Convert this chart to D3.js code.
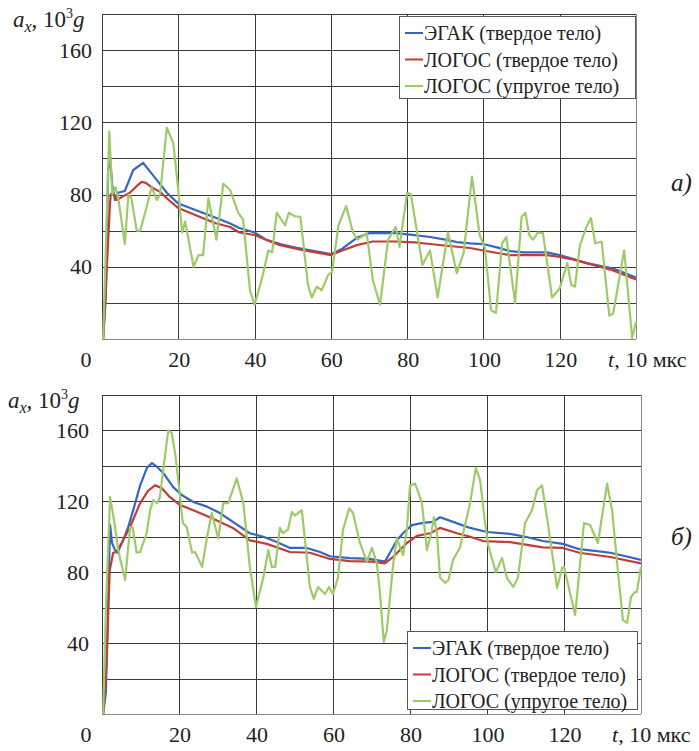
<!DOCTYPE html>
<html>
<head>
<meta charset="utf-8">
<script src="https://cdn.jsdelivr.net/npm/d3@7"></script>
<style>
  body { margin: 0; background: #fff; }
  svg { display: block; }
</style>
</head>
<body>
<svg id="svgID" width="699" height="751" font-family="'Liberation Serif', 'DejaVu Serif', serif"></svg>
<script>
var FONT = "'Liberation Serif', 'DejaVu Serif', serif";

// series names / legend
var seriesNames = ["ЭГАК (твердое тело)", "ЛОГОС (твердое тело)", "ЛОГОС (упругое тело)"];
var seriesColors = ["#3766c2", "#c43c38", "#9dcb68"];

var xTicks = [0, 20, 40, 60, 80, 100, 120, 140];
var xTickLabels = ["0", "20", "40", "60", "80", "100", "120", ""];
var yTicks = [0, 20, 40, 60, 80, 100, 120, 140, 160, 180];
var yTickLabels = [40, 80, 120, 160];

// panel a) : [t, a_x]
var topEgak = [[0.3,0],[1,23],[1.6,93],[2.1,101],[2.7,85],[3.4,77],[4.2,81],[6,82],[8.2,93.6],[10.8,97.5],[12.5,93],[14.4,88],[17,81],[20,75],[25.7,70.5],[30,67],[33.6,64],[36,61.5],[40,59],[43,55],[47,52.5],[51,50.5],[55,49],[60,47],[63,50],[66.8,56],[70,58.6],[74,58.8],[77,58.6],[82,57.5],[86,56.5],[90,55],[93,53.7],[96.5,53],[100,52.6],[104,50.5],[107,48.7],[110.4,48],[116.6,48],[120,46.5],[124,44],[127,42],[130,40.8],[134,39],[137,36.5],[140,34]];
var topLogosT = [[0.3,0],[0.8,20],[2.1,75],[2.3,80],[2.9,81.5],[3.9,77],[5.5,79],[7.3,81],[9,84.5],[10.4,87],[11.5,86.5],[13,84],[15.2,81.5],[17.5,77],[20,72.5],[25.7,67.6],[30,64],[33.6,62],[36,59],[40,57.6],[43,55],[46.7,52],[52,49.5],[56,48],[60,46.5],[63,49],[66.8,52],[71,54],[77,54],[82,53.5],[86,52.6],[91,51.5],[96.5,50.4],[100,49],[104,47.5],[107,46.5],[116.6,46.5],[120,45.5],[124,43.8],[127,42],[130,40.3],[134,38],[137,35.5],[140,33]];
var topLogosU = [[0.3,0],[1.9,115],[2.7,80],[3.6,84],[4.4,76],[6,52.6],[6.9,80],[7.7,78],[9.1,60],[10,60],[11.7,73],[13,84],[14.4,77],[15.2,80],[17,117],[18.7,108.5],[20,82.5],[21,59],[21.8,65],[24,40],[25.3,46.5],[26.5,46.5],[27.9,78],[30,55],[31.8,86],[33.6,82.5],[35.7,70],[37,66],[38.8,27],[40,19],[42,34],[43.6,49],[44.6,48],[45.8,70],[48,63],[49,70],[50.5,68],[52,67.6],[54,30],[55,23],[56.3,29],[57.6,27],[59.3,35.5],[60.3,37],[62,63],[64,73.6],[65.8,59],[67,55],[69.4,58.6],[71,32.7],[72.9,19],[75,55],[77,62],[78,51],[80,81],[81,80],[84,41],[86,49],[88,23],[90.7,59],[93,36.5],[94.8,47.6],[97,90],[99,57.6],[100.4,50.4],[102,16],[103.3,14.4],[104.9,53],[106,56.5],[108.3,20],[110,67.6],[111,70],[112,57.6],[113,55],[114.3,59],[115.6,58.6],[118,23],[120,28],[122,42],[123,30],[124,29],[125.3,52],[127,62],[128.2,67],[129.3,53],[131,54],[133,13],[134,14],[136.9,49],[139,0.5],[140,9.5]];

// panel б)
var botEgak = [[0.3,0],[1,12],[2.1,106.6],[2.6,96.5],[3.4,92.5],[4,91],[5.5,98],[6.8,105.5],[8.1,115],[9.9,129],[11.7,139],[13,141.6],[14.3,139.4],[15.9,136],[18.5,128],[20.7,123.6],[23.7,119.6],[27.3,117],[30.6,113.4],[34,108.4],[38.4,102],[41.9,100],[45.4,97],[48.8,93.7],[53.2,93.7],[56.6,91.4],[59.2,89],[64.4,88],[69.6,87.5],[73.5,86],[76.6,98],[78.2,102],[80.5,106.6],[83.4,107.8],[86,108.4],[87.8,111],[91.2,108.4],[95.6,105],[100,102.7],[106,101.6],[110,100],[114.5,97.6],[119.7,96],[124,93],[128,92],[132,91],[136,89],[140,87]];
var botLogosT = [[0.3,0],[1.2,30],[2,81],[2.9,91],[3.8,91.4],[5.1,96.5],[7.3,105.5],[9.9,119],[12,126],[13.8,129],[15.5,127.5],[17.6,122.5],[20.2,118],[23.7,115],[28,111],[34,105],[38.4,98],[42.8,96],[48.8,91.4],[54,91],[59.2,87.5],[64.4,86.3],[70.4,86],[73.5,85],[75.6,88.6],[79.2,96.5],[81.8,100.5],[85.2,102],[87.8,105],[92.2,102],[95.6,100],[99,97.6],[106,97],[114.5,94],[119.7,93.7],[124,91],[132,88.6],[140,85]];
var botLogosU = [[0.3,0],[1,58.7],[2.1,122.5],[3.4,105.5],[4.2,92.5],[6,75.6],[7.3,105.5],[8,105],[9,91],[9.9,91.4],[11.6,102],[12.5,115],[13.3,120.7],[14.3,119],[15,122],[15.9,137.7],[17.2,160],[18.1,158.6],[19,147],[19.8,132],[21,107.8],[22,105.5],[23.4,91],[24.2,91.4],[26,83],[27.3,100],[28.5,113.4],[30.2,99],[31.5,119],[32.8,119],[35,133],[36.7,119],[38.4,83],[40,60.4],[41.9,77],[43.2,92.5],[44.1,83],[45,83],[46.2,105],[47,102],[48.3,104],[49.3,114],[50.1,112],[51.9,115],[54,71.7],[55,65],[56.1,71.7],[57.9,67.7],[59,71.7],[60,67.7],[61.3,77],[62.6,104],[64.2,116],[65.2,113.4],[67,96.5],[68.8,86],[70.1,93.7],[71.4,85],[72.2,68],[73.2,40.6],[74,47.4],[74.8,66],[75.6,84],[76.6,99.3],[77.4,94],[78.2,89.7],[79.2,104],[80,129],[81.3,130],[82,126],[83.1,119],[84.4,92.5],[85.7,104],[86.2,111],[87,102],[87.8,77],[89.1,74],[90,75.6],[91.2,87],[93,94],[93.8,102],[95.6,119],[97.1,139],[98.2,132],[99.5,107.8],[100.3,95.4],[102.3,80],[103.9,88],[105.2,76.7],[106.8,71.7],[108,76.7],[109.9,107.8],[111.7,115],[113,126.4],[114.3,129],[115.8,107.8],[118.2,71],[119.5,82.4],[120,83],[122.9,55.9],[125.2,107.8],[126.8,106.6],[128.8,96.5],[131.2,130],[132.5,115],[133.8,85],[135.3,53],[136.4,51.4],[137.4,66],[138.4,68.8],[138.9,68.8],[140,83]];

var svg = d3.select("#svgID");

function drawPanel(p) {
    var x = d3.scaleLinear().domain([0, 140]).range([p.left, p.right]);
    var y = d3.scaleLinear().domain([0, 180]).range([p.bottom, p.top]);
    var g = svg.append("g").attr("font-family", FONT);

    // grid
    g.append("g").selectAll("line").data(yTicks).enter().append("line")
        .attr("x1", p.left).attr("x2", p.right)
        .attr("y1", function(d) { return Math.round(y(d)) + 0.5; })
        .attr("y2", function(d) { return Math.round(y(d)) + 0.5; })
        .style("stroke", function(d) { return d == 0 ? "#888" : "#3a3a3a"; })
        .style("stroke-width", 1);
    g.append("g").selectAll("line").data(xTicks).enter().append("line")
        .attr("y1", p.top).attr("y2", p.bottom)
        .attr("x1", function(d) { return Math.round(x(d)) + 0.5; })
        .attr("x2", function(d) { return Math.round(x(d)) + 0.5; })
        .style("stroke", function(d) { return d == 140 ? "#888" : "#3a3a3a"; })
        .style("stroke-width", 1);

    // tick labels
    g.append("g").selectAll("text").data(yTickLabels).enter().append("text")
        .attr("x", p.yLabelX).attr("y", function(d) { return y(d); })
        .attr("dy", "0.35em")
        .attr("text-anchor", "end")
        .style("font-family", FONT)
        .style("font-size", "22px").style("fill", "#222")
        .text(function(d) { return d; });
    g.append("g").selectAll("text").data(xTicks).enter().append("text")
        .attr("x", function(d) { return d == 0 ? x(d) - 16 : x(d) + 1; })
        .attr("y", p.bottom + 28)
        .attr("text-anchor", "middle")
        .style("font-family", FONT)
        .style("font-size", "22px").style("fill", "#222")
        .text(function(d, i) { return xTickLabels[i]; });

    // x axis title
    var xt = g.append("text").attr("x", p.xTitleX).attr("y", p.bottom + 28)
        .style("font-family", FONT)
        .style("font-size", "22px").style("fill", "#222");
    xt.append("tspan").style("font-style", "italic").text("t");
    xt.append("tspan").text(", 10 мкс");

    // y axis title
    var yt = g.append("text").attr("x", p.yTitleX).attr("y", p.yTitleY)
        .style("font-family", FONT)
        .style("font-size", "23px").style("fill", "#222");
    yt.append("tspan").style("font-style", "italic").text("a");
    yt.append("tspan").style("font-style", "italic").style("font-size", "16px").attr("dy", 5).text("x");
    yt.append("tspan").attr("dy", -5).text(", 10");
    yt.append("tspan").style("font-size", "14px").attr("dy", -9).text("3");
    yt.append("tspan").style("font-style", "italic").attr("dy", 9).text("g");

    // panel letter
    g.append("text").attr("x", 671).attr("y", p.letterY)
        .style("font-family", FONT)
        .style("font-size", "25px").style("font-style", "italic").style("fill", "#222")
        .text(p.letter);

    // lines
    var line = d3.line()
        .x(function(d) { return x(d[0]); })
        .y(function(d) { return y(d[1]); });
    g.append("g").selectAll("path").data(p.series).enter().append("path")
        .attr("d", line)
        .style("fill", "none")
        .style("stroke", function(d, i) { return seriesColors[i]; })
        .style("stroke-width", 2.2)
        .style("stroke-linejoin", "round");

    // legend
    var lg = g.append("g");
    lg.append("rect")
        .attr("x", p.legX + 0.5).attr("y", p.legY + 0.5)
        .attr("width", p.legW).attr("height", p.legH)
        .style("fill", "#fff").style("stroke", "#555");
    var items = lg.selectAll("g").data(seriesNames).enter().append("g")
        .attr("transform", function(d, i) { return "translate(0," + (p.legY + 17 + i * 26.5) + ")"; });
    items.append("line")
        .attr("x1", p.legX + 6).attr("x2", p.legX + 24)
        .style("stroke", function(d, i) { return seriesColors[i]; })
        .style("stroke-width", 2);
    items.append("text")
        .attr("x", p.legX + 25).attr("dy", "0.35em")
        .style("font-family", FONT)
        .style("font-size", "20px").style("fill", "#222")
        .text(function(d) { return d; });
}

drawPanel({ left: 102, right: 636, top: 14, bottom: 339, yLabelX: 92,
    xTitleX: 608, yTitleX: 13, yTitleY: 27, letter: "а)", letterY: 191,
    legX: 399, legY: 16, legW: 236, legH: 82,
    series: [topEgak, topLogosT, topLogosU] });
drawPanel({ left: 102, right: 641, top: 395, bottom: 714, yLabelX: 89,
    xTitleX: 612, yTitleX: 8, yTitleY: 408, letter: "б)", letterY: 545,
    legX: 407, legY: 631, legW: 230, legH: 78,
    series: [botEgak, botLogosT, botLogosU] });
</script>
</body>
</html>
